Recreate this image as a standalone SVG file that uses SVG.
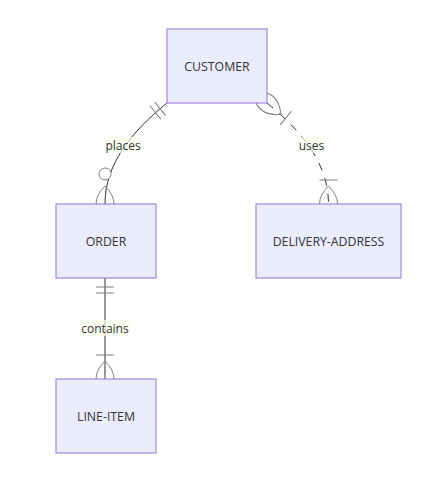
<svg xmlns="http://www.w3.org/2000/svg" width="444" height="483" viewBox="0 0 444 483">
<style>
.bg{fill:#ffffff}
.entity rect{fill:#ECECFF;stroke:#9370DB;stroke-width:1}
.entity text{font-family:"Open Sans","Liberation Sans",sans-serif;font-size:12.3px;fill:#333;text-anchor:middle;dominant-baseline:central}
.rel{fill:none;stroke:#333;stroke-width:1}
.dashed{stroke-dasharray:8,8}
.lblbox{fill:#f9ffec;opacity:0.7}
.lbl{font-family:"Open Sans","Liberation Sans",sans-serif;font-size:12px;fill:#333;text-anchor:middle;dominant-baseline:central}
.mk{fill:none;stroke:gray;stroke-width:1}
.mkc{fill:#ffffff;stroke:gray;stroke-width:1}
</style>
<defs>
<marker id="onlyOneStart" refX="0" refY="9" markerWidth="18" markerHeight="18" orient="auto" markerUnits="userSpaceOnUse">
<path class="mk" d="M9,0 L9,18 M15,0 L15,18"/>
</marker>
<marker id="zeroOrMoreEnd" refX="39" refY="18" markerWidth="57" markerHeight="36" orient="auto" markerUnits="userSpaceOnUse">
<circle class="mkc" cx="9" cy="18" r="6"/>
<path class="mk" d="M21,18 Q39,0 57,18 Q39,36 21,18"/>
</marker>
<marker id="oneOrMoreStart" refX="18" refY="18" markerWidth="45" markerHeight="36" orient="auto" markerUnits="userSpaceOnUse">
<path class="mk" d="M0,18 Q18,0 36,18 Q18,36 0,18 M42,9 L42,27"/>
</marker>
<marker id="oneOrMoreEnd" refX="27" refY="18" markerWidth="45" markerHeight="36" orient="auto" markerUnits="userSpaceOnUse">
<path class="mk" d="M3,9 L3,27 M9,18 Q27,0 45,18 Q27,36 9,18"/>
</marker>
</defs>
<rect class="bg" x="0" y="0" width="444" height="483"/>
<g id="connectors">
<path id="edge-places" class="rel" d="M167,103 C130,133 105,165 105,204" marker-start="url(#onlyOneStart)" marker-end="url(#zeroOrMoreEnd)"/>
<path id="edge-uses" class="rel dashed" d="M267,103 C304,133 328.5,165 328.5,204" marker-start="url(#oneOrMoreStart)" marker-end="url(#oneOrMoreEnd)"/>
<path id="edge-contains" class="rel" d="M105,278 L105,379" marker-start="url(#onlyOneStart)" marker-end="url(#oneOrMoreEnd)"/>
<rect class="lblbox" x="104.5" y="137" width="37" height="16"/>
<text class="lbl" x="123" y="145">places</text>
<rect class="lblbox" x="298.5" y="137" width="26" height="16"/>
<text class="lbl" x="311.5" y="145">uses</text>
<rect class="lblbox" x="80" y="320" width="50" height="16"/>
<text class="lbl" x="105" y="328">contains</text>
</g>
<g id="node-CUSTOMER" class="entity">
<rect x="167" y="29" width="100" height="74"/>
<text x="217" y="66">CUSTOMER</text>
</g>
<g id="node-ORDER" class="entity">
<rect x="56" y="204" width="100" height="74"/>
<text x="106" y="241">ORDER</text>
</g>
<g id="node-DELIVERY-ADDRESS" class="entity">
<rect x="256" y="204" width="145" height="74"/>
<text x="328.5" y="241">DELIVERY-ADDRESS</text>
</g>
<g id="node-LINE-ITEM" class="entity">
<rect x="56" y="379" width="100" height="74"/>
<text x="106" y="416">LINE-ITEM</text>
</g>
</svg>
